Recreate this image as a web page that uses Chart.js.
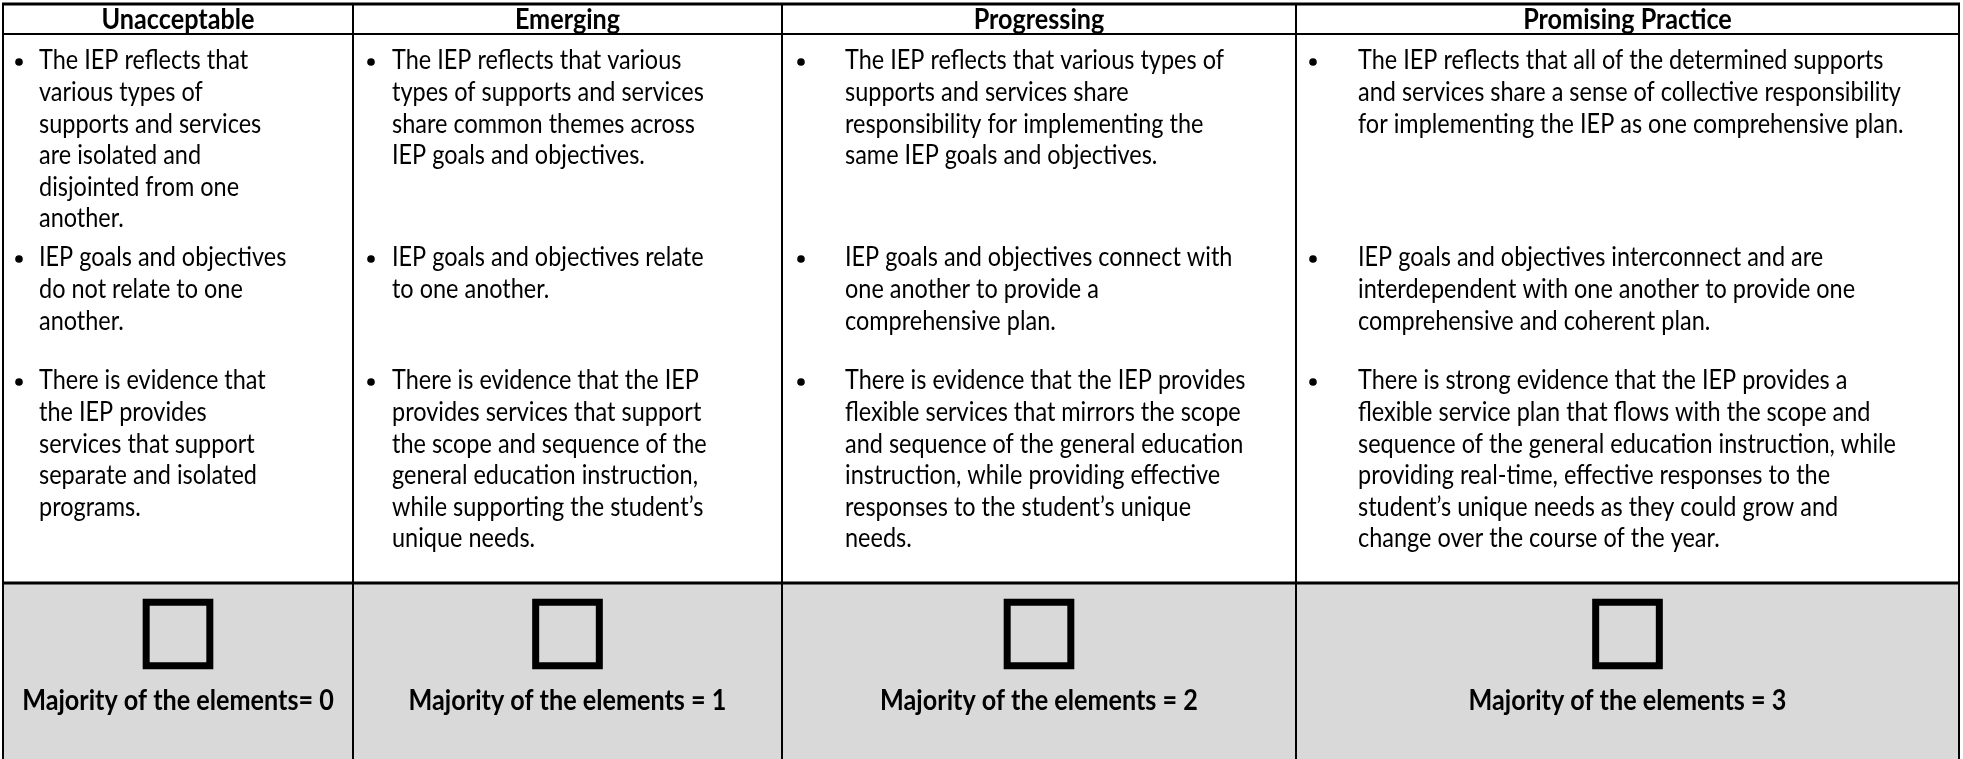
<!DOCTYPE html>
<html>
<head>
<meta charset="utf-8">
<script src="https://cdn.jsdelivr.net/npm/chart.js@4.4.1/dist/chart.umd.min.js"></script>
<style>
  html, body { margin: 0; padding: 0; background: #fff; overflow: hidden; }
  #wrap { width: 1963px; height: 759px; position: relative; }
</style>
</head>
<body>
<div id="wrap"><canvas id="rubric"></canvas></div>
<script>
(function () {
  'use strict';

  // ---- data ----
  var LEVELS = ['Unacceptable', 'Emerging', 'Progressing', 'Promising Practice'];
  var SCORES = [0, 1, 2, 3];
  var SCORE_LABELS = [
    'Majority of the elements= 0',
    'Majority of the elements = 1',
    'Majority of the elements = 2',
    'Majority of the elements = 3'
  ];

  // each column: three bullets, each bullet already broken into its printed lines
  var UNACCEPTABLE = [
    ['The IEP reflects that', 'various types of', 'supports and services', 'are isolated and', 'disjointed from one', 'another.'],
    ['IEP goals and objectives', 'do not relate to one', 'another.'],
    ['There is evidence that', 'the IEP provides', 'services that support', 'separate and isolated', 'programs.']
  ];
  var EMERGING = [
    ['The IEP reflects that various', 'types of supports and services', 'share common themes across', 'IEP goals and objectives.'],
    ['IEP goals and objectives relate', 'to one another.'],
    ['There is evidence that the IEP', 'provides services that support', 'the scope and sequence of the', 'general education instruction,', 'while supporting the student\u2019s', 'unique needs.']
  ];
  var PROGRESSING = [
    ['The IEP reflects that various types of', 'supports and services share', 'responsibility for implementing the', 'same IEP goals and objectives.'],
    ['IEP goals and objectives connect with', 'one another to provide a', 'comprehensive plan.'],
    ['There is evidence that the IEP provides', 'flexible services that mirrors the scope', 'and sequence of the general education', 'instruction, while providing effective', 'responses to the student\u2019s unique', 'needs.']
  ];
  var PROMISING = [
    ['The IEP reflects that all of the determined supports', 'and services share a sense of collective responsibility', 'for implementing the IEP as one comprehensive plan.'],
    ['IEP goals and objectives interconnect and are', 'interdependent with one another to provide one', 'comprehensive and coherent plan.'],
    ['There is strong evidence that the IEP provides a', 'flexible service plan that flows with the scope and', 'sequence of the general education instruction, while', 'providing real-time, effective responses to the', 'student\u2019s unique needs as they could grow and', 'change over the course of the year.']
  ];
  var COLUMNS = [UNACCEPTABLE, EMERGING, PROGRESSING, PROMISING];

  // ---- layout (page px, mapped through the chart scales) ----
  var PAGE_W = 1963, PAGE_H = 759;
  var COL_EDGES = [3, 353, 782, 1296, 1959];
  var TABLE_TOP = 4, HEAD_BOTTOM = 34, FOOT_TOP = 583;
  var HEAD_Y = 20;
  var ROW_FIRST_LINE = [61, 258, 381];
  var LINE_H = 31.6;
  var BULLET_DX = [16, 18, 19, 17];
  var TEXT_DX = [36, 39, 63, 62];
  var BOX_Y = 634, LABEL_Y = 701;
  var STRETCH = 1.12; // Lato is squatter than the original face
  var FONT = "Lato, 'Open Sans', sans-serif";

  function fitSize(ctx, weight, text, width) {
    ctx.font = weight + ' 100px ' + FONT;
    return 100 * width / ctx.measureText(text).width;
  }

  function tallText(ctx, t, x, y) {
    ctx.save();
    ctx.translate(x, y);
    ctx.scale(1, STRETCH);
    ctx.fillText(t, 0, 0);
    ctx.restore();
  }

  var tablePlugin = {
    id: 'rubricTable',
    beforeDatasetsDraw: function (chart) {
      var ctx = chart.ctx;
      var xs = chart.scales.x, ys = chart.scales.y;
      var X = function (v) { return xs.getPixelForValue(v); };
      var Y = function (v) { return ys.getPixelForValue(v); };
      var bodySize = fitSize(ctx, 'normal', PROMISING[0][1], 543);
      var boldSize = fitSize(ctx, 'bold', SCORE_LABELS[3], 318);

      ctx.save();
      // footer band
      ctx.fillStyle = '#d9d9d9';
      ctx.fillRect(X(COL_EDGES[0]), Y(FOOT_TOP), X(COL_EDGES[4]) - X(COL_EDGES[0]), Y(PAGE_H) - Y(FOOT_TOP));

      // grid lines
      ctx.strokeStyle = '#000';
      ctx.lineWidth = 3;
      [TABLE_TOP, FOOT_TOP].forEach(function (yv) {
        ctx.beginPath(); ctx.moveTo(X(COL_EDGES[0]) - 1, Y(yv)); ctx.lineTo(X(COL_EDGES[4]) + 1, Y(yv)); ctx.stroke();
      });
      ctx.lineWidth = 2;
      ctx.beginPath(); ctx.moveTo(X(COL_EDGES[0]), Y(HEAD_BOTTOM)); ctx.lineTo(X(COL_EDGES[4]), Y(HEAD_BOTTOM)); ctx.stroke();
      COL_EDGES.forEach(function (xv) {
        ctx.beginPath(); ctx.moveTo(X(xv), Y(TABLE_TOP)); ctx.lineTo(X(xv), Y(PAGE_H) + 2); ctx.stroke();
      });

      ctx.fillStyle = '#000';
      ctx.textBaseline = 'middle';

      // header
      ctx.textAlign = 'center';
      ctx.font = 'bold ' + boldSize + 'px ' + FONT;
      LEVELS.forEach(function (lv, i) {
        tallText(ctx, lv, X((COL_EDGES[i] + COL_EDGES[i + 1]) / 2), Y(HEAD_Y));
      });

      // bullets
      ctx.textAlign = 'left';
      ctx.font = 'normal ' + bodySize + 'px ' + FONT;
      COLUMNS.forEach(function (col, c) {
        col.forEach(function (lines, r) {
          var y0 = ROW_FIRST_LINE[r];
          ctx.beginPath();
          ctx.arc(X(COL_EDGES[c] + BULLET_DX[c]), Y(y0) + 1, 3.8, 0, Math.PI * 2);
          ctx.fill();
          lines.forEach(function (t, k) {
            tallText(ctx, t, X(COL_EDGES[c] + TEXT_DX[c]), Y(y0 + k * LINE_H));
          });
        });
      });

      // footer labels
      ctx.textAlign = 'center';
      ctx.font = 'bold ' + boldSize + 'px ' + FONT;
      SCORE_LABELS.forEach(function (t, i) {
        tallText(ctx, t, X((COL_EDGES[i] + COL_EDGES[i + 1]) / 2), Y(LABEL_Y));
      });
      ctx.restore();
    }
  };

  var boxes = SCORES.map(function (s) {
    return { x: (COL_EDGES[s] + COL_EDGES[s + 1]) / 2, y: BOX_Y };
  });

  new Chart(document.getElementById('rubric'), {
    type: 'scatter',
    data: {
      datasets: [{
        label: 'score boxes',
        data: boxes,
        pointStyle: 'rect',
        pointRadius: 45,
        pointHoverRadius: 45,
        borderWidth: 7,
        borderColor: '#000',
        backgroundColor: 'rgba(0,0,0,0)',
        clip: false
      }]
    },
    options: {
      responsive: true,
      maintainAspectRatio: false,
      animation: false,
      events: [],
      layout: { padding: 0, autoPadding: false },
      plugins: { legend: { display: false }, tooltip: { enabled: false } },
      scales: {
        x: { type: 'linear', min: 0, max: PAGE_W, display: false },
        y: { type: 'linear', min: 0, max: PAGE_H, reverse: true, display: false }
      }
    },
    plugins: [tablePlugin]
  });
})();
</script>
</body>
</html>
